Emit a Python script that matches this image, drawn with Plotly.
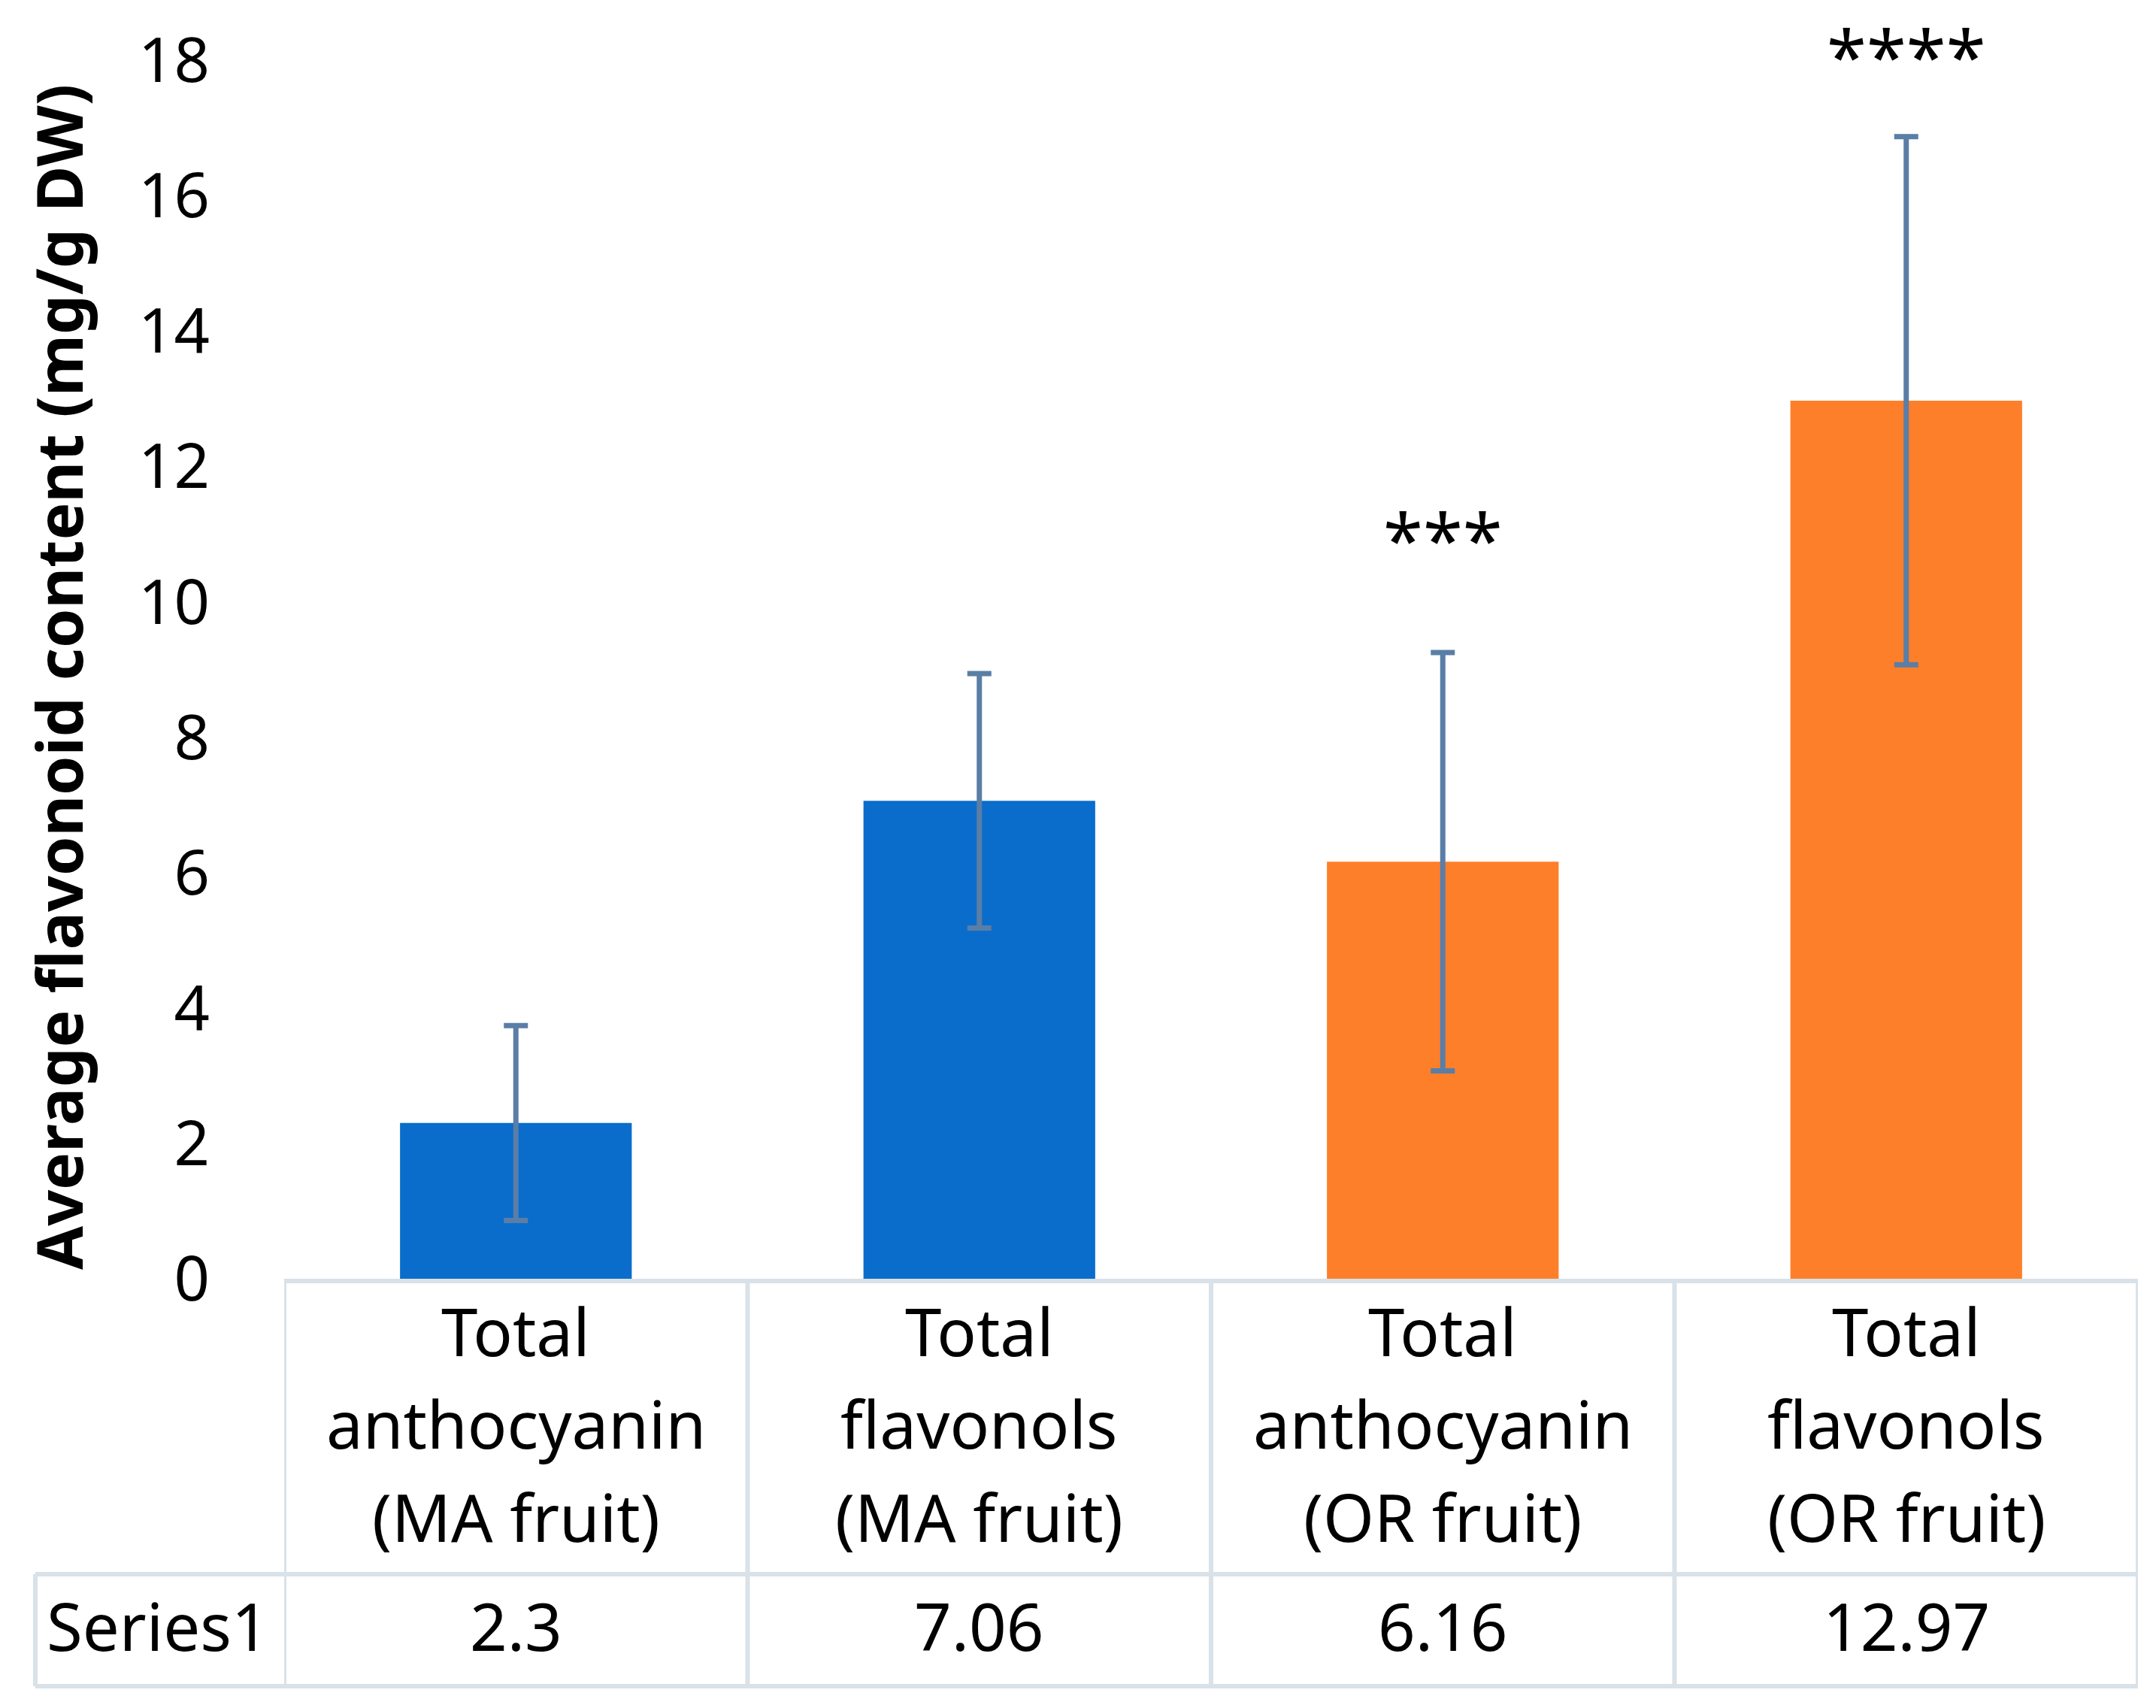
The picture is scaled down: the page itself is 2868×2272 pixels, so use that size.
import plotly.graph_objects as go

# ---- data ----
categories = ["Total<br>anthocyanin<br>(MA fruit)", "Total<br>flavonols<br>(MA fruit)",
              "Total<br>anthocyanin<br>(OR fruit)", "Total<br>flavonols<br>(OR fruit)"]
values = [2.3, 7.06, 6.16, 12.97]
errors = [1.44, 1.88, 3.09, 3.9]
value_labels = ["2.3", "7.06", "6.16", "12.97"]
significance = ["", "", "***", "****"]
significance_y = [None, None, 11.1, 18.24]
series_name = "Series1"
y_ticks = [0, 2, 4, 6, 8, 10, 12, 14, 16, 18]
y_range = [0, 18]
y_title = "Average flavonoid content (mg/g DW)"

bar_colors = ["#0a6dcb", "#0a6dcb", "#fe7f2a", "#fe7f2a"]

# page body has an 8px margin; figure coordinates = screen coordinates - OFF
OFF = 8
SW, SH = 2868, 2272
W, H = SW - 2 * OFF, SH - 2 * OFF
# screen-space plot box
PL, PR, PT, PB = 378, 2844, 80, 1701
ML, MT = PL - OFF, PT - OFF
MR, MB = W - (PR - OFF), H - (PB - OFF)
PW, PH = W - ML - MR, H - MT - MB
FONT = "Noto Sans"
LINE = "#d9e1e9"

def px_x(p):
    return (p - OFF - ML) / PW

def px_y(p):
    return (H - MB - (p - OFF)) / PH

def val_to_paper(v):
    return (v - y_range[0]) / (y_range[1] - y_range[0])

xs = list(range(len(categories)))

fig = go.Figure()
fig.add_trace(go.Bar(
    x=xs, y=values,
    marker=dict(color=bar_colors, line=dict(width=0)),
    error_y=dict(type="data", array=errors, visible=True,
                 color="#5a7ea6", thickness=7, width=16),
    showlegend=False,
))

shapes = []
for yp in [2094, 2243]:
    shapes.append(dict(type="line", xref="paper", yref="paper",
                       x0=px_x(47), x1=1, y0=px_y(yp), y1=px_y(yp),
                       line=dict(color=LINE, width=6)))
for b in [i - 0.5 for i in range(len(categories) + 1)]:
    shapes.append(dict(type="line", xref="x", yref="paper",
                       x0=b, x1=b, y0=px_y(1701), y1=px_y(2243),
                       line=dict(color=LINE, width=6)))
shapes.append(dict(type="line", xref="paper", yref="paper",
                   x0=px_x(47), x1=px_x(47), y0=px_y(2094), y1=px_y(2243),
                   line=dict(color=LINE, width=6)))

annotations = []
line_ys = [1770, 1893, 2017]
for i, cat in enumerate(categories):
    for j, part in enumerate(cat.split("<br>")):
        annotations.append(dict(x=i, xref="x", y=px_y(line_ys[j]), yref="paper",
                                text=part, showarrow=False, xanchor="center", yanchor="middle",
                                font=dict(family=FONT, size=87, color="#000000")))
    annotations.append(dict(x=i, xref="x", y=px_y(2162), yref="paper",
                            text=value_labels[i], showarrow=False, xanchor="center", yanchor="middle",
                            font=dict(family=FONT, size=87, color="#000000")))
    if significance[i]:
        annotations.append(dict(x=i, xref="x", y=val_to_paper(significance_y[i]), yref="paper",
                                text=significance[i], showarrow=False, xanchor="center",
                                yanchor="middle", yshift=-15,
                                font=dict(family=FONT, size=96, color="#000000")))
annotations.append(dict(x=px_x(210), xref="paper", y=px_y(2162), yref="paper",
                        text=series_name, showarrow=False, xanchor="center", yanchor="middle",
                        font=dict(family=FONT, size=87, color="#000000")))
annotations.append(dict(x=px_x(77), xref="paper", y=px_y(901), yref="paper",
                        text="<b>" + y_title + "</b>", textangle=-90, showarrow=False,
                        xanchor="center", yanchor="middle",
                        font=dict(family=FONT, size=84, color="#000000")))

fig.update_layout(
    width=W, height=H,
    margin=dict(l=ML, r=MR, t=MT, b=MB, autoexpand=False),
    paper_bgcolor="white", plot_bgcolor="white",
    bargap=0.5,
    shapes=shapes, annotations=annotations,
    xaxis=dict(range=[-0.5, len(categories) - 0.5], showticklabels=False, ticks="",
               showgrid=False, zeroline=False, showline=True, linecolor=LINE, linewidth=6),
    yaxis=dict(range=y_range, tickvals=y_ticks, showgrid=False, zeroline=False,
               showline=False, ticks="", ticklabelstandoff=98,
               tickfont=dict(family=FONT, size=83, color="#000000")),
)

fig.write_html("out.html")
